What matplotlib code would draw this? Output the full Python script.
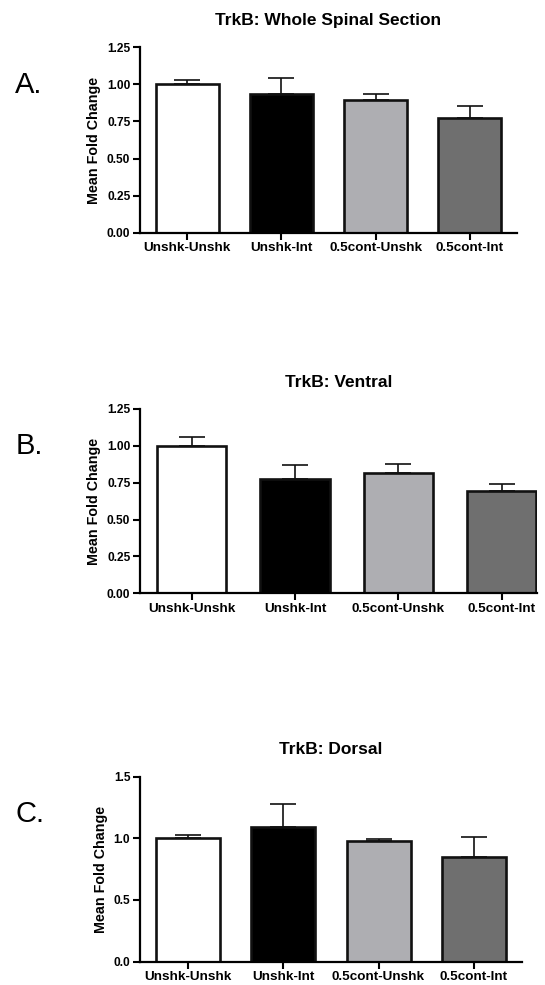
import numpy as np
import matplotlib
matplotlib.use('Agg')
import matplotlib.pyplot as plt

plt.rcParams['font.family'] = ['Liberation Sans', 'DejaVu Sans']

groups = ['Unshk-Unshk', 'Unshk-Int', '0.5cont-Unshk', '0.5cont-Int']
bar_colors = ['#FFFFFF', '#000000', '#AEAEB2', '#6F6F6F']

# mean fold change and upper SEM for each region
whole_mean = [1.00, 0.935, 0.895, 0.772]
whole_sem = [0.030, 0.105, 0.038, 0.080]

ventral_mean = [1.00, 0.778, 0.816, 0.694]
ventral_sem = [0.060, 0.090, 0.060, 0.047]

dorsal_mean = [1.00, 1.095, 0.981, 0.846]
dorsal_sem = [0.030, 0.186, 0.016, 0.165]

fig = plt.figure(figsize=(5.45, 9.85), dpi=100)


def bar_panel(rect, title, letter, means, sems, ymax, yticks, tick_fmt, xmax=3.5):
    ax = fig.add_axes(rect)
    x = np.arange(len(groups))
    ax.bar(x, means, width=0.67, color=bar_colors, edgecolor='#111111',
           linewidth=1.9, zorder=2)
    lower = np.zeros(len(sems))
    ax.errorbar(x, means, yerr=[lower, sems], fmt='none', ecolor='#111111',
                elinewidth=1.2, capsize=9.5, capthick=1.2, zorder=1)
    ax.set_xlim(-0.5, xmax)
    ax.set_ylim(0, ymax)
    ax.set_yticks(yticks)
    ax.set_yticklabels([tick_fmt.format(v) for v in yticks],
                       fontsize=8.6, fontweight='bold')
    ax.set_xticks(x)
    ax.set_xticklabels(groups, fontsize=9.7, fontweight='bold')
    ax.tick_params(axis='both', direction='out', length=5, width=1.5, pad=2)
    for side in ['top', 'right']:
        ax.spines[side].set_visible(False)
    for side in ['left', 'bottom']:
        ax.spines[side].set_linewidth(1.6)
    ax.set_ylabel('Mean Fold Change', fontsize=10.3, fontweight='bold', labelpad=4)
    ax.set_title(title, fontsize=12.5, fontweight='bold', pad=16)
    fig.text(0.028, rect[1] + rect[3] - 0.038, letter, fontsize=21,
             ha='left', va='center')
    return ax


bar_panel([0.2569, 0.7638, 0.6917, 0.1882], 'TrkB: Whole Spinal Section', 'A.',
          whole_mean, whole_sem, 1.25, [0, 0.25, 0.5, 0.75, 1.0, 1.25], '{:.2f}')
bar_panel([0.2569, 0.3977, 0.7279, 0.1871], 'TrkB: Ventral', 'B.',
          ventral_mean, ventral_sem, 1.25, [0, 0.25, 0.5, 0.75, 1.0, 1.25], '{:.2f}',
          xmax=3.34)
bar_panel([0.2569, 0.0237, 0.7003, 0.1878], 'TrkB: Dorsal', 'C.',
          dorsal_mean, dorsal_sem, 1.5, [0, 0.5, 1.0, 1.5], '{:.1f}')

fig.savefig('out.png', dpi=100)
